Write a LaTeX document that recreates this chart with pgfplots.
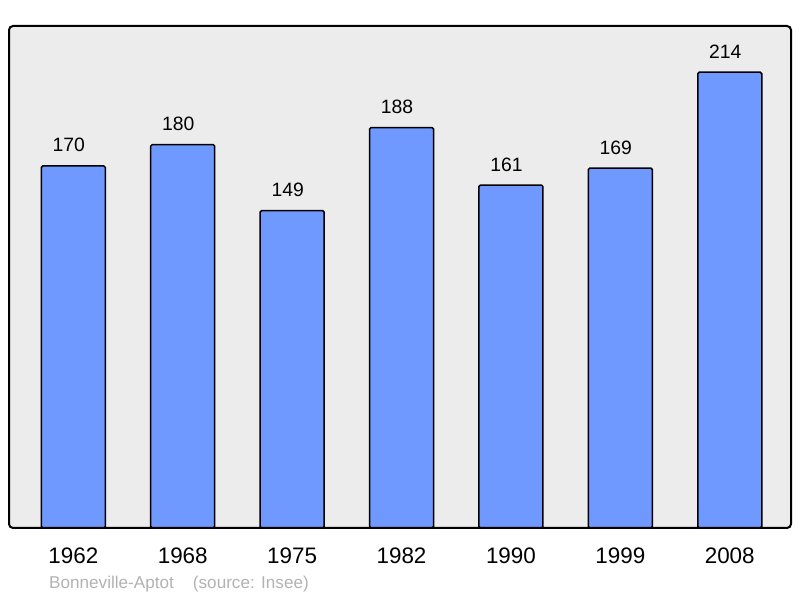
\documentclass[border=0pt]{standalone}
\usepackage{fontspec}
\setmainfont{Liberation Sans}
\usepackage{pgfplots}
\pgfplotsset{compat=1.18}
\definecolor{bgcol}{RGB}{236,236,236}
\definecolor{barcol}{RGB}{112,153,255}
\definecolor{foot}{RGB}{178,178,178}
\begin{document}
\begin{tikzpicture}[x=1bp,y=1bp]
  \path[use as bounding box] (0,0) rectangle (800,598);
  \begin{axis}[
    at={(9bp,70bp)}, anchor=south west,
    scale only axis, width=782bp, height=502bp,
    xmin=-0.588, xmax=6.56, ymin=0, ymax=235.7,
    axis line style={draw=none},
    axis background/.style={fill=bgcol},
    ytick=\empty,
    xtick={0,...,6},
    xticklabels={1962,1968,1975,1982,1990,1999,2008},
    major tick length=0pt,
    xticklabel style={font=\fontsize{22.5}{27}\selectfont, inner sep=0pt, yshift=-20bp},
    ybar, bar width=64bp,
    nodes near coords,
    nodes near coords style={font=\fontsize{19.4}{23}\selectfont, inner sep=0pt,
      anchor=south, yshift=13bp, xshift=-4.5bp, text=black},
    /pgf/number format/assume math mode=true,
    clip=false,
  ]
    % population by census year
    \addplot[fill=barcol, draw=black, line width=1.5bp, rounded corners=1.5bp]
      coordinates {(0,170) (1,180) (2,149) (3,188) (4,161) (5,169) (6,214)};
    % frame on top of the bars
    \draw[line width=2bp, rounded corners=4bp] (rel axis cs:0,0) rectangle (rel axis cs:1,1);
  \end{axis}
  \node[anchor=base west, text=foot, font=\fontsize{17.2}{20}\selectfont, inner sep=0pt]
    at (49bp,9bp) {Bonneville-Aptot\hspace{19bp}(source: Insee)};
\end{tikzpicture}
\end{document}
